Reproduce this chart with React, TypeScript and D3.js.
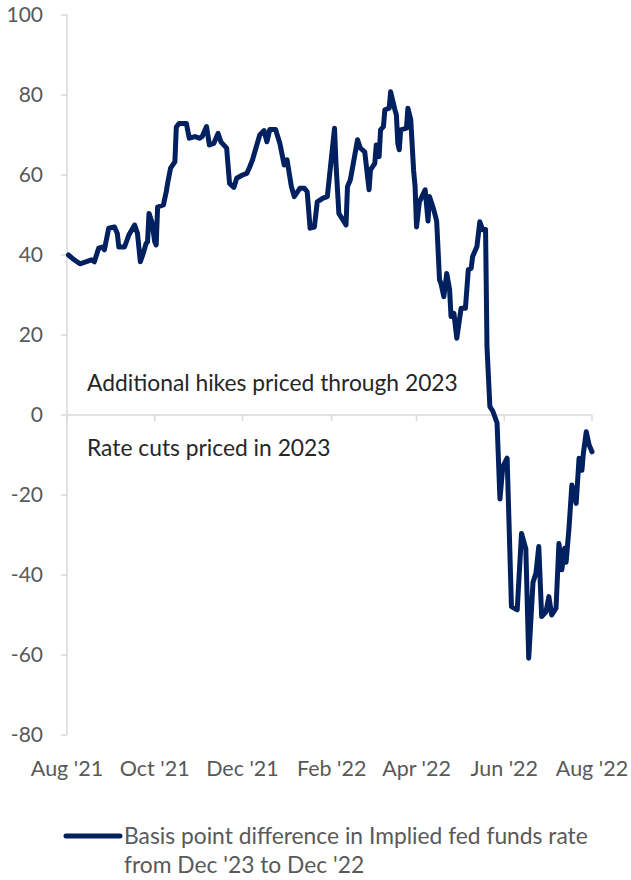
import React from "react";
import * as d3 from "d3";

const dates: string[] = [
  "2021-08-02","2021-08-06","2021-08-10","2021-08-14","2021-08-18","2021-08-20","2021-08-23","2021-08-26","2021-08-27","2021-08-30",
  "2021-09-03","2021-09-05","2021-09-06","2021-09-10","2021-09-13","2021-09-17","2021-09-19","2021-09-21","2021-09-23","2021-09-25",
  "2021-09-26","2021-09-27","2021-09-29","2021-10-01","2021-10-02","2021-10-03","2021-10-07","2021-10-09","2021-10-10","2021-10-12",
  "2021-10-15","2021-10-16","2021-10-18","2021-10-23","2021-10-25","2021-10-29","2021-11-01","2021-11-03","2021-11-06","2021-11-08",
  "2021-11-11","2021-11-14","2021-11-16","2021-11-20","2021-11-22","2021-11-25","2021-11-27","2021-12-01","2021-12-04","2021-12-06",
  "2021-12-08","2021-12-10","2021-12-13","2021-12-16","2021-12-18","2021-12-20","2021-12-24","2021-12-27","2021-12-30","2022-01-01",
  "2022-01-04","2022-01-06","2022-01-10","2022-01-13","2022-01-15","2022-01-17","2022-01-20","2022-01-22","2022-01-26","2022-01-29",
  "2022-02-03","2022-02-04","2022-02-06","2022-02-11","2022-02-12","2022-02-14","2022-02-19","2022-02-21","2022-02-24","2022-02-27",
  "2022-02-28","2022-03-03","2022-03-04","2022-03-06","2022-03-07","2022-03-09","2022-03-10","2022-03-13","2022-03-14","2022-03-17",
  "2022-03-18","2022-03-19","2022-03-20","2022-03-21","2022-03-25","2022-03-26","2022-03-28","2022-03-30","2022-03-31","2022-04-01",
  "2022-04-03","2022-04-07","2022-04-09","2022-04-10","2022-04-13","2022-04-15","2022-04-17","2022-04-18","2022-04-20","2022-04-22",
  "2022-04-24","2022-04-25","2022-04-27","2022-04-29","2022-05-02","2022-05-05","2022-05-07","2022-05-09","2022-05-10","2022-05-13",
  "2022-05-15","2022-05-17","2022-05-19","2022-05-20","2022-05-22","2022-05-24","2022-05-27","2022-05-29","2022-05-31","2022-06-03",
  "2022-06-06","2022-06-10","2022-06-13","2022-06-16","2022-06-18","2022-06-21","2022-06-23","2022-06-25","2022-06-27","2022-06-30",
  "2022-07-02","2022-07-04","2022-07-07","2022-07-09","2022-07-11","2022-07-13","2022-07-14","2022-07-16","2022-07-18","2022-07-21",
  "2022-07-23","2022-07-25","2022-07-26","2022-07-28","2022-07-30","2022-08-01",
];

const values: number[] = [
  40, 38.8, 37.8, 38.3, 38.8, 38.3, 41.7, 42, 41.3, 46.7,
  47, 45.4, 42, 42, 45, 47.5, 45.4, 38.3, 40.4, 42.9,
  43.3, 50.4, 48.3, 43.3, 42.5, 52, 52.5, 55.8, 58, 61.7,
  63.3, 72, 72.9, 72.9, 69.2, 69.6, 69.2, 69.6, 72.1, 67.5,
  67.9, 70.4, 68.3, 66.7, 57.9, 56.9, 59.2, 60, 60.4, 62,
  63.8, 66.3, 70, 71.1, 68.3, 71.4, 71.4, 67.9, 62.5, 63.8,
  57.1, 54.6, 56.7, 56.7, 55.8, 46.7, 47, 53.3, 54.2, 54.6,
  71.7, 62.9, 50.4, 47.5, 57.1, 58.8, 68.8, 66.7, 65.8, 56.3,
  61.3, 62.9, 67.5, 64.6, 71.3, 72.1, 76.3, 76.7, 80.8, 76.3,
  75, 67.9, 66.3, 71.3, 71.7, 76.7, 73.8, 61, 57.1, 47,
  53.3, 56.3, 48.5, 54.6, 51.3, 48.5, 33.8, 32.9, 29.6, 35.4,
  31.3, 24.6, 25.4, 19.2, 26.7, 26.7, 36.3, 36.7, 39.6, 42.1,
  48.3, 46.3, 46.4, 17, 2.1, 1.0, -2, -21, -12.9, -10.8,
  -47.9, -48.7, -29.6, -33.5, -60.8, -41.8, -39.6, -32.9, -50.4, -49.2,
  -45.4, -50, -48.3, -32.1, -38.7, -33.3, -36.8, -28.3, -17.5, -22.1,
  -10.8, -13.8, -9.6, -4.2, -7.5, -9.2,
];

const yTicks: number[] = [100, 80, 60, 40, 20, 0, -20, -40, -60, -80];
const xTickDates: string[] = ["2021-08-01", "2021-10-01", "2021-12-01", "2022-02-01", "2022-04-01", "2022-06-01", "2022-08-01"];
const xTickLabels: string[] = ["Aug '21", "Oct '21", "Dec '21", "Feb '22", "Apr '22", "Jun '22", "Aug '22"];
const annotationAbove = "Additional hikes priced through 2023";
const annotationBelow = "Rate cuts priced in 2023";
const legendLines: string[] = ["Basis point difference in Implied fed funds rate", "from Dec '23 to Dec '22"];

const W = 631;
const H = 880;
const LEFT = 67;
const RIGHT = 592;
const TOP = 15;
const BOTTOM = 735;
const FONT = "Lato, 'Noto Sans', sans-serif";
const NAVY = "#002060";
const AXIS = "#d9d9d9";
const TICK_TEXT = "#595959";

export default function App() {
  const parse = d3.utcParse("%Y-%m-%d");
  const data = dates.map((d, i) => ({ date: parse(d) as Date, value: values[i] }));
  const x = d3
    .scaleUtc()
    .domain([parse(xTickDates[0]) as Date, parse(xTickDates[xTickDates.length - 1]) as Date])
    .range([LEFT, RIGHT]);
  const y = d3.scaleLinear().domain([-80, 100]).range([BOTTOM, TOP]);
  const line = d3
    .line<{ date: Date; value: number }>()
    .x((d) => x(d.date))
    .y((d) => y(d.value))
    .curve(d3.curveLinear);

  const y0 = y(0);

  return (
    <svg
      width={W}
      height={H}
      style={{ position: "absolute", left: 0, top: 0, background: "#fff" }}
      fontFamily={FONT}
    >
      {/* y axis */}
      <line x1={LEFT} x2={LEFT} y1={y(100)} y2={y(-80)} stroke={AXIS} strokeWidth={1.5} />
      {yTicks.map((t) => (
        <g key={t}>
          <line x1={LEFT - 6} x2={LEFT} y1={y(t)} y2={y(t)} stroke={AXIS} strokeWidth={1.5} />
          <text x={43} y={y(t)} dy="0.35em" textAnchor="end" fontSize={21} fill={TICK_TEXT}>
            {t}
          </text>
        </g>
      ))}
      {/* x axis at zero */}
      <line x1={LEFT} x2={RIGHT} y1={y0} y2={y0} stroke={AXIS} strokeWidth={1.5} />
      {xTickDates.map((d) => {
        const xx = x(parse(d) as Date);
        return <line key={d} x1={xx} x2={xx} y1={y0} y2={y0 + 6} stroke={AXIS} strokeWidth={1.5} />;
      })}
      {xTickLabels.map((label, i) => (
        <text
          key={"l" + label}
          x={x(parse(xTickDates[i]) as Date)}
          y={768}
          dy="0.35em"
          textAnchor="middle"
          fontSize={21.5}
          fill={TICK_TEXT}
        >
          {label}
        </text>
      ))}
      {/* annotations */}
      <text x={87} y={383} dy="0.35em" fontSize={22.8} fill="#262626">
        {annotationAbove}
      </text>
      <text x={87} y={448} dy="0.35em" fontSize={22.8} fill="#262626">
        {annotationBelow}
      </text>
      {/* series */}
      <path
        d={line(data) || ""}
        fill="none"
        stroke={NAVY}
        strokeWidth={5}
        strokeLinejoin="round"
        strokeLinecap="round"
      />
      {/* legend */}
      <line x1={66} x2={120} y1={836} y2={836} stroke={NAVY} strokeWidth={5} strokeLinecap="round" />
      {legendLines.map((t, i) => (
        <text key={i} x={124} y={836 + i * 29} dy="0.35em" fontSize={22.8} fill={TICK_TEXT}>
          {t}
        </text>
      ))}
    </svg>
  );
}
